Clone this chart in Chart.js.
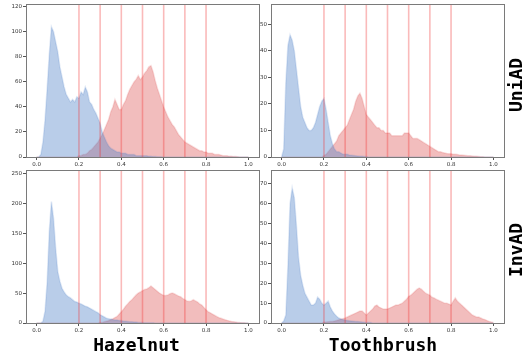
<!DOCTYPE html>
<html>
<head>
<meta charset="utf-8">
<script src="https://cdn.jsdelivr.net/npm/chart.js@4.4.0/dist/chart.umd.min.js"></script>
<style>
  body { margin: 0; background: #fff; }
  #wrap { position: relative; width: 527px; height: 355px; overflow: hidden; }
  canvas { position: absolute; }
  .title { position: absolute; font: bold 18px "DejaVu Sans Mono"; line-height: 18px; color: #000; white-space: nowrap; }
</style>
</head>
<body>
<div id="wrap">
  <canvas id="c1" width="262" height="168" style="left:0px;top:0px"></canvas>
  <canvas id="c2" width="269" height="168" style="left:258px;top:0px"></canvas>
  <canvas id="c3" width="262" height="170" style="left:0px;top:165px"></canvas>
  <canvas id="c4" width="269" height="170" style="left:258px;top:165px"></canvas>
  <div class="title" style="left:136.5px;top:336px;transform:translateX(-50%)">Hazelnut</div>
  <div class="title" style="left:383px;top:336px;transform:translateX(-50%)">Toothbrush</div>
  <div class="title" style="left:515.5px;top:84.5px;transform:translate(-50%,-50%) rotate(-90deg)">UniAD</div>
  <div class="title" style="left:515.5px;top:250px;transform:translate(-50%,-50%) rotate(-90deg)">InvAD</div>
</div>
<script>
// histogram bins (anomaly score)
const bins = [
  0.00, 0.01, 0.02, 0.03, 0.04, 0.05, 0.06, 0.07, 0.08, 0.09,
  0.10, 0.11, 0.12, 0.13, 0.14, 0.15, 0.16, 0.17, 0.18, 0.19,
  0.20, 0.21, 0.22, 0.23, 0.24, 0.25, 0.26, 0.27, 0.28, 0.29,
  0.30, 0.31, 0.32, 0.33, 0.34, 0.35, 0.36, 0.37, 0.38, 0.39,
  0.40, 0.41, 0.42, 0.43, 0.44, 0.45, 0.46, 0.47, 0.48, 0.49,
  0.50, 0.51, 0.52, 0.53, 0.54, 0.55, 0.56, 0.57, 0.58, 0.59,
  0.60, 0.61, 0.62, 0.63, 0.64, 0.65, 0.66, 0.67, 0.68, 0.69,
  0.70, 0.71, 0.72, 0.73, 0.74, 0.75, 0.76, 0.77, 0.78, 0.79,
  0.80, 0.81, 0.82, 0.83, 0.84, 0.85, 0.86, 0.87, 0.88, 0.89,
  0.90, 0.91, 0.92, 0.93, 0.94, 0.95, 0.96, 0.97, 0.98, 0.99,
  1.00
];
const xTicks = [0.0, 0.2, 0.4, 0.6, 0.8, 1.0];
const thresholds = [0.2, 0.3, 0.4, 0.5, 0.6, 0.7, 0.8];

// Hazelnut / UniAD
const hazelUniNormal = [
  0, 0, 2, 12, 30, 55, 82, 104, 100, 92,
  84, 72, 64, 56, 50, 47, 44, 46, 44, 48,
  47, 52, 50, 56, 52, 44, 42, 38, 35, 31,
  27, 20, 16, 12, 9, 7, 6, 5, 4, 4,
  3, 3, 3, 2, 2, 2, 2, 1, 1, 1,
  1, 1, 1, 0.5, 0.5, 0.3, 0.3, 0.2, 0.2, 0.1,
  0, 0, 0, 0, 0, 0, 0, 0, 0, 0,
  0, 0, 0, 0, 0, 0, 0, 0, 0, 0,
  0, 0, 0, 0, 0, 0, 0, 0, 0, 0,
  0, 0, 0, 0, 0, 0, 0, 0, 0, 0,
  0
];
const hazelUniAnomaly = [
  0, 0, 0, 0, 0, 0, 0, 0, 0, 0,
  0, 0, 0, 0, 0, 0, 0, 0, 0, 0,
  1, 1, 2, 2, 3, 5, 6, 8, 10, 12,
  15, 18, 22, 26, 30, 36, 40, 46, 42, 38,
  38, 42, 45, 50, 54, 57, 60, 62, 65, 62,
  64, 67, 69, 72, 73, 68, 61, 55, 50, 45,
  40, 36, 32, 29, 26, 24, 21, 18, 16, 14,
  12, 11, 10, 9, 8, 7, 6, 5, 5, 4,
  4, 3, 3, 3, 2, 2, 2, 1.5, 1, 1,
  1, 0.5, 0.5, 0.3, 0.3, 0.2, 0, 0, 0, 0,
  0
];
const hazelUniYTicks = [0, 20, 40, 60, 80, 100, 120];

// Toothbrush / UniAD
const toothUniNormal = [
  0, 3, 28, 42, 46, 44, 40, 33, 26, 19,
  15, 13, 11, 10, 10, 11, 13, 16, 19, 21,
  22, 18, 13, 8, 5, 3, 2, 2, 1.5, 1,
  1, 1, 0.8, 0.7, 0.6, 0.5, 0.4, 0.3, 0.3, 0.2,
  0.2, 0, 0, 0, 0, 0, 0, 0, 0, 0,
  0, 0, 0, 0, 0, 0, 0, 0, 0, 0,
  0, 0, 0, 0, 0, 0, 0, 0, 0, 0,
  0, 0, 0, 0, 0, 0, 0, 0, 0, 0,
  0, 0, 0, 0, 0, 0, 0, 0, 0, 0,
  0, 0, 0, 0, 0, 0, 0, 0, 0, 0,
  0
];
const toothUniAnomaly = [
  0, 0, 0, 0, 0, 0, 0, 0, 0, 0,
  0, 0, 0, 0, 0, 0, 0, 0, 0, 0,
  0.5, 1, 2, 3, 4, 5, 6, 8, 9, 10,
  11, 12, 14, 16, 18, 21, 23, 24, 22, 19,
  16, 15, 14, 13, 12, 11, 11, 10, 10, 9,
  9, 9, 8, 8, 8, 8, 8, 8, 9, 9,
  9, 8, 7, 7, 7, 6.5, 6, 5.5, 5, 4.5,
  4, 3.5, 3, 2.5, 2, 2, 1.7, 1.5, 1.3, 1.2,
  1.2, 1, 1, 0.9, 0.8, 0.8, 0.7, 0.6, 0.5, 0.5,
  0.4, 0.3, 0.3, 0.2, 0.1, 0.1, 0, 0, 0, 0,
  0
];
const toothUniYTicks = [0, 10, 20, 30, 40, 50];

// Hazelnut / InvAD
const hazelInvNormal = [
  0, 0, 0, 3, 20, 69, 153, 203, 175, 125,
  86, 70, 58, 52, 47, 44, 42, 39, 36, 35,
  33, 32, 30, 28, 27, 25, 23, 21, 19, 17,
  14, 12, 10, 8, 7, 6.5, 6, 5, 5, 4,
  4, 3, 3, 2.5, 2, 2, 1.5, 1.5, 1, 1,
  1, 0.5, 0.5, 0.5, 0.3, 0.3, 0.2, 0.2, 0.1, 0.1,
  0, 0, 0, 0, 0, 0, 0, 0, 0, 0,
  0, 0, 0, 0, 0, 0, 0, 0, 0, 0,
  0, 0, 0, 0, 0, 0, 0, 0, 0, 0,
  0, 0, 0, 0, 0, 0, 0, 0, 0, 0,
  0
];
const hazelInvAnomaly = [
  0, 0, 0, 0, 0, 0, 0, 0, 0, 0,
  0, 0, 0, 0, 0, 0, 0, 0, 0, 0,
  0, 0, 0, 0, 0, 0, 0, 0, 0, 0,
  1, 1, 2, 3, 4, 5.5, 7, 9, 11, 15,
  19, 23, 28, 32, 36, 39, 43, 47, 50, 52,
  54, 56, 57, 59, 62, 59, 56, 53, 50, 48,
  46, 46, 47, 49, 50, 49, 47, 45, 44, 41,
  39, 37, 36, 37, 39, 37, 35, 32, 30, 26,
  22, 19, 17, 15, 13, 11, 9, 8, 6.7, 5.5,
  4.4, 3.5, 2.5, 2, 1.5, 1, 0.7, 0.5, 0.3, 0,
  0
];
const hazelInvYTicks = [0, 50, 100, 150, 200, 250];

// Toothbrush / InvAD
const toothInvNormal = [
  0, 1, 4, 29, 60, 68, 63, 49, 33, 24,
  19, 15, 13, 11, 9, 9, 10, 13, 12, 10,
  9, 10, 11, 8, 6, 4.5, 3.4, 2.5, 2, 1.8,
  1.5, 1.3, 1.1, 1, 0.9, 0.8, 0.7, 0.6, 0.5, 0.4,
  0.3, 0.2, 0.2, 0, 0, 0, 0, 0, 0, 0,
  0, 0, 0, 0, 0, 0, 0, 0, 0, 0,
  0, 0, 0, 0, 0, 0, 0, 0, 0, 0,
  0, 0, 0, 0, 0, 0, 0, 0, 0, 0,
  0, 0, 0, 0, 0, 0, 0, 0, 0, 0,
  0, 0, 0, 0, 0, 0, 0, 0, 0, 0,
  0
];
const toothInvAnomaly = [
  0, 0, 0, 0, 0, 0, 0, 0, 0, 0,
  0, 0, 0, 0, 0, 0, 0, 0, 0, 0,
  0.5, 0.5, 0.6, 0.7, 0.8, 1, 1.3, 1.6, 2, 2.2,
  2.5, 3, 3.5, 4, 4.5, 5, 5.5, 6, 6, 5,
  4, 5, 6, 7, 8.5, 9, 8, 7.5, 7, 7,
  7, 7.5, 8, 8.5, 9, 9, 9.5, 10, 11, 12,
  13.4, 14, 15, 16, 17, 17.6, 17, 16, 15, 14.5,
  14, 13, 12.6, 12, 11.5, 11, 10.5, 10, 10, 9.5,
  9, 11, 12.6, 11, 10, 9, 8, 7, 6, 5,
  4, 3.5, 3, 3, 2.5, 2, 1.7, 1.2, 0.8, 0.5,
  0.3
];
const toothInvYTicks = [0, 10, 20, 30, 40, 50, 60, 70];

// threshold lines + axes frame
const framePlugin = {
  id: 'frame',
  afterDatasetsDraw(chart) {
    const ctx = chart.ctx, a = chart.chartArea, xs = chart.scales.x;
    ctx.save();
    ctx.strokeStyle = 'rgba(240,40,40,0.32)';
    ctx.lineWidth = 1.6;
    thresholds.forEach(t => {
      const px = xs.getPixelForValue(t);
      ctx.beginPath();
      ctx.moveTo(px, a.top);
      ctx.lineTo(px, a.bottom);
      ctx.stroke();
    });
    ctx.restore();
  },
  afterDraw(chart) {
    const ctx = chart.ctx, a = chart.chartArea;
    ctx.save();
    ctx.strokeStyle = '#7a7a7a';
    ctx.lineWidth = 1;
    ctx.strokeRect(Math.round(a.left) + 0.5, Math.round(a.top) + 0.5,
      Math.round(a.right - a.left), Math.round(a.bottom - a.top));
    ctx.restore();
  }
};

const tickFont = { family: 'DejaVu Sans', size: 5.5 };

function histPanel(id, normal, anomaly, yTicks, yMax, yWidth, pad, xHeight) {
  const ctx = document.getElementById(id).getContext('2d');
  return new Chart(ctx, {
    type: 'line',
    data: {
      labels: bins,
      datasets: [{
        data: normal,
        fill: 'origin',
        backgroundColor: 'rgba(80,130,200,0.4)',
        borderColor: 'rgba(80,130,200,0.18)',
        borderWidth: 1.5,
        pointRadius: 0
      }, {
        data: anomaly,
        fill: 'origin',
        backgroundColor: 'rgba(222,82,82,0.38)',
        borderColor: 'rgba(222,82,82,0.18)',
        borderWidth: 1.5,
        pointRadius: 0
      }]
    },
    options: {
      responsive: false,
      animation: false,
      layout: { padding: pad },
      plugins: { legend: { display: false }, tooltip: { enabled: false } },
      scales: {
        x: {
          type: 'linear',
          min: -0.05,
          max: 1.05,
          afterBuildTicks: s => { s.ticks = xTicks.map(v => ({ value: v })); },
          afterFit: s => { s.height = xHeight; },
          border: { display: false },
          grid: { drawOnChartArea: false, drawTicks: true, tickLength: 3, color: '#555' },
          ticks: { font: tickFont, color: '#333', padding: 1, maxRotation: 0,
                   callback: v => v.toFixed(1) }
        },
        y: {
          min: 0,
          max: yMax,
          afterBuildTicks: s => { s.ticks = yTicks.map(v => ({ value: v })); },
          afterFit: s => { s.width = yWidth; },
          border: { display: false },
          grid: { drawOnChartArea: false, drawTicks: true, tickLength: 3, color: '#555' },
          ticks: { font: tickFont, color: '#333', padding: 1,
                   callback: v => String(v) }
        }
      }
    },
    plugins: [framePlugin]
  });
}

histPanel('c1', hazelUniNormal, hazelUniAnomaly, hazelUniYTicks, 122, 26, { top: 3, right: 3, left: 0, bottom: 0 }, 11);
histPanel('c2', toothUniNormal, toothUniAnomaly, toothUniYTicks, 57.5, 13, { top: 3, right: 23, left: 0, bottom: 0 }, 11);
histPanel('c3', hazelInvNormal, hazelInvAnomaly, hazelInvYTicks, 256, 26, { top: 5, right: 3, left: 0, bottom: 0 }, 12);
histPanel('c4', toothInvNormal, toothInvAnomaly, toothInvYTicks, 77, 13, { top: 5, right: 23, left: 0, bottom: 0 }, 12);
</script>
</body>
</html>
